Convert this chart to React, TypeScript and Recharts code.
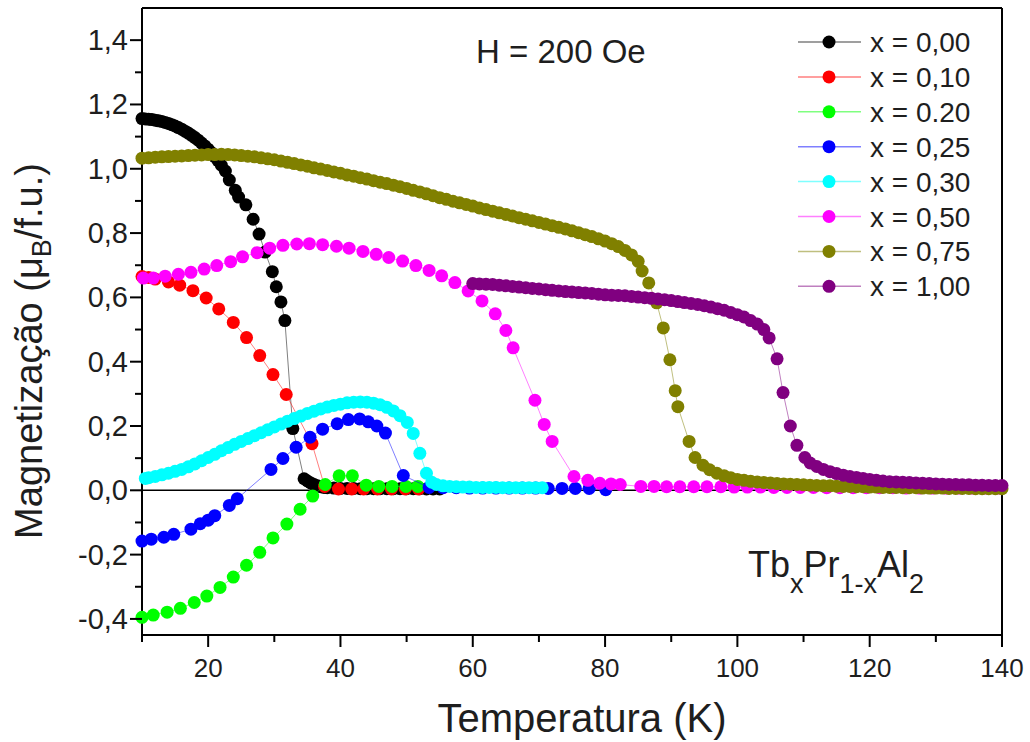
import { ScatterChart, Scatter, XAxis, YAxis, ReferenceLine } from 'recharts';

const FONT = '"Liberation Sans", Arial, Helvetica, sans-serif';
const TEXT = '#1e1e1e';
const DOT_R = 6.5;

type Pt = [number, number];

// magnetization (mu_B/f.u.) vs temperature (K)
const x000: Pt[] = [
  [10, 1.156], [10.5, 1.155], [11, 1.154], [11.5, 1.153], [12, 1.151], [12.5, 1.149], [13, 1.147],
  [13.5, 1.144], [14, 1.141], [14.5, 1.137], [15, 1.133], [15.5, 1.128], [16, 1.123], [16.5, 1.117],
  [17, 1.111], [17.5, 1.104], [18, 1.097], [18.5, 1.089], [19, 1.08], [19.5, 1.071], [20, 1.061],
  [20.5, 1.05], [21, 1.038], [21.5, 1.025], [22, 1.011], [22.6, 0.993], [23.2, 0.965], [24.1, 0.933],
  [24.6, 0.912], [25.7, 0.888], [26.8, 0.843], [27.7, 0.797], [28.6, 0.741], [29.7, 0.68], [30.3, 0.633],
  [31.0, 0.586], [31.6, 0.528], [32.8, 0.192], [34.5, 0.036], [35, 0.029], [35.5, 0.023], [36, 0.018],
  [36.5, 0.014], [37, 0.011], [37.5, 0.009], [38, 0.008], [39, 0.007], [40, 0.006], [41, 0.006],
  [42, 0.006], [43, 0.005], [44, 0.005], [45, 0.005], [46, 0.005], [47, 0.005], [48, 0.005], [49, 0.005],
  [50, 0.005], [51, 0.005], [52, 0.005], [53, 0.004], [54, 0.004], [55, 0.004],
];

const x010: Pt[] = [
  [10, 0.665], [11, 0.662], [12, 0.657], [14, 0.648], [15.7, 0.638], [17.7, 0.621], [19.7, 0.598],
  [21.6, 0.564], [23.8, 0.522], [25.8, 0.475], [27.8, 0.419], [29.8, 0.36], [31.8, 0.298], [35.7, 0.145],
  [37.6, 0.012], [39.7, 0.004], [41.7, 0.004], [43.5, 0.004], [45.6, 0.004], [47.7, 0.004], [49.8, 0.004],
  [51.8, 0.004],
];

const x020: Pt[] = [
  [10, -0.395], [11.7, -0.388], [13.8, -0.379], [15.8, -0.367], [17.9, -0.349], [19.8, -0.329],
  [21.8, -0.302], [23.8, -0.27], [25.8, -0.233], [27.8, -0.193], [29.8, -0.148], [31.9, -0.105],
  [33.9, -0.059], [35.8, -0.018], [37.7, 0.018], [39.8, 0.045], [41.8, 0.045], [43.9, 0.016],
  [45.8, 0.012], [47.8, 0.012], [49.9, 0.012], [51.7, 0.012],
];

const x025: Pt[] = [
  [10, -0.158], [11.4, -0.152], [13.3, -0.146], [14.8, -0.137], [17.4, -0.121], [18.8, -0.104],
  [20, -0.093], [21, -0.079], [23.2, -0.047], [24.4, -0.026], [29.5, 0.065], [31.3, 0.099], [33.3, 0.134],
  [35.4, 0.165], [37.3, 0.19], [39.5, 0.207], [41.2, 0.22], [42.9, 0.222], [44.2, 0.213], [45.5, 0.2],
  [46.8, 0.178], [49.5, 0.046], [53.4, 0.009], [55.5, 0.008], [57.5, 0.008], [59.5, 0.007], [61.5, 0.007],
  [63.5, 0.007], [65.5, 0.007], [67.5, 0.007], [69.5, 0.007], [71.4, 0.006], [73.5, 0.006], [75.5, 0.006],
  [77.6, 0.006], [80.1, 0.002],
];

const x030: Pt[] = [
  [10.5, 0.037], [11, 0.039], [12, 0.043], [13, 0.048], [14, 0.053], [15, 0.059], [16, 0.065], [17, 0.073],
  [18, 0.082], [19, 0.092], [20, 0.102], [21, 0.112], [22, 0.123], [23, 0.133], [24, 0.143], [25, 0.152],
  [26, 0.161], [27, 0.17], [28, 0.179], [29, 0.188], [30, 0.197], [31, 0.206], [32, 0.215], [33, 0.223],
  [34, 0.231], [35, 0.239], [36, 0.246], [37, 0.253], [38, 0.259], [39, 0.264], [40, 0.268], [41, 0.272],
  [42, 0.274], [43, 0.275], [44, 0.274], [45, 0.271], [46, 0.266], [47, 0.258], [48, 0.247], [49, 0.232],
  [50.1, 0.211], [51, 0.177], [52, 0.115], [53, 0.053], [53.8, 0.025], [54.5, 0.018], [55.5, 0.014],
  [56.5, 0.012], [57.5, 0.011], [58.5, 0.01], [59.5, 0.01], [60.5, 0.009], [61.5, 0.009], [62.5, 0.009],
  [63.5, 0.009], [64.5, 0.008], [65.5, 0.008], [66.5, 0.008], [67.5, 0.008], [68.5, 0.008], [69.5, 0.008],
  [70.5, 0.008],
];

const x050: Pt[] = [
  [10.2, 0.66], [11.7, 0.66], [13.5, 0.666], [15.5, 0.672], [17.4, 0.678], [19.4, 0.688], [21.3, 0.699],
  [23.4, 0.711], [25.2, 0.726], [27.4, 0.739], [29.3, 0.753], [31.3, 0.762], [33.4, 0.766], [35.3, 0.767],
  [37.3, 0.764], [39.4, 0.759], [41.3, 0.753], [43.4, 0.743], [45.4, 0.734], [47.3, 0.724], [49.4, 0.713],
  [51.4, 0.699], [53.4, 0.684], [55.3, 0.667], [57.3, 0.646], [59.3, 0.62], [61.4, 0.589], [63.4, 0.549],
  [65.0, 0.497], [66.1, 0.443], [69.4, 0.28], [70.8, 0.205], [72.0, 0.152], [75.3, 0.043], [77.4, 0.031],
  [79.2, 0.022], [80.9, 0.02], [82.3, 0.018], [85.4, 0.012], [87.4, 0.012], [89.3, 0.011], [91.3, 0.011],
  [93.4, 0.011], [95.4, 0.011], [97.5, 0.011], [99.5, 0.01], [101.5, 0.01], [103.5, 0.01], [105.5, 0.009],
  [107.5, 0.009], [109.5, 0.009], [111.5, 0.009], [113.5, 0.008], [115.5, 0.008], [117.5, 0.008],
  [119.5, 0.008], [121.5, 0.008], [123.5, 0.008], [125.5, 0.007], [127.5, 0.007], [129.5, 0.007],
  [131.5, 0.007], [133.5, 0.007], [135.5, 0.007], [137.5, 0.007], [139.5, 0.007],
];

const x075: Pt[] = [
  [10, 1.033], [11, 1.034], [12, 1.036], [13, 1.037], [14, 1.038], [15, 1.039], [16, 1.04], [17, 1.041],
  [18, 1.042], [19, 1.043], [20, 1.044], [21, 1.044], [22, 1.045], [23, 1.044], [24, 1.043], [25, 1.041],
  [26, 1.039], [27, 1.037], [28, 1.034], [29, 1.031], [30, 1.028], [31, 1.024], [32, 1.02], [33, 1.016],
  [34, 1.012], [35, 1.008], [36, 1.003], [37, 0.999], [38, 0.995], [39, 0.99], [40, 0.986], [41, 0.981],
  [42, 0.977], [43, 0.972], [44, 0.968], [45, 0.963], [46, 0.958], [47, 0.954], [48, 0.949], [49, 0.944],
  [50, 0.939], [51, 0.933], [52, 0.928], [53, 0.922], [54, 0.916], [55, 0.91], [56, 0.905], [57, 0.899],
  [58, 0.894], [59, 0.889], [60, 0.884], [61, 0.878], [62, 0.873], [63, 0.868], [64, 0.863], [65, 0.858],
  [66, 0.853], [67, 0.848], [68, 0.843], [69, 0.838], [70, 0.833], [71, 0.828], [72, 0.823], [73, 0.818],
  [74, 0.813], [75, 0.807], [76, 0.801], [77, 0.795], [78, 0.789], [79, 0.782], [80, 0.775], [81, 0.767],
  [82, 0.758], [83, 0.746], [84, 0.732], [85, 0.712], [85.6, 0.682], [86.6, 0.645], [87.8, 0.583],
  [88.8, 0.505], [89.8, 0.406], [90.6, 0.31], [91.0, 0.26], [92.7, 0.152], [93.6, 0.102], [94.8, 0.078],
  [95.8, 0.064], [96.9, 0.053], [98, 0.045], [99, 0.039], [100, 0.034], [101, 0.031], [102, 0.028],
  [103, 0.026], [104, 0.024], [105, 0.023], [106, 0.021], [107, 0.02], [108, 0.019], [109, 0.018],
  [110, 0.017], [111, 0.016], [112, 0.015], [113, 0.014], [114, 0.014], [115, 0.013], [116, 0.012],
  [117, 0.012], [118, 0.011], [119, 0.011], [120, 0.01], [121, 0.01], [122, 0.009], [123, 0.009],
  [124, 0.009], [125, 0.008], [126, 0.008], [127, 0.008], [128, 0.007], [129, 0.007], [130, 0.007],
  [131, 0.007], [132, 0.006], [133, 0.006], [134, 0.006], [135, 0.006], [136, 0.005], [137, 0.005],
  [138, 0.005], [139, 0.005], [140, 0.005],
];

const x100: Pt[] = [
  [60, 0.643], [61, 0.642], [62, 0.641], [63, 0.64], [64, 0.638], [65, 0.636], [66, 0.634], [67, 0.632],
  [68, 0.63], [69, 0.628], [70, 0.626], [71, 0.624], [72, 0.622], [73, 0.62], [74, 0.618], [75, 0.617],
  [76, 0.615], [77, 0.614], [78, 0.612], [79, 0.61], [80, 0.608], [81, 0.607], [82, 0.606], [83, 0.605],
  [84, 0.603], [85, 0.601], [86, 0.599], [87, 0.597], [88, 0.595], [89, 0.593], [90, 0.59], [91, 0.587],
  [92, 0.584], [93, 0.581], [94, 0.578], [95, 0.574], [96, 0.57], [97, 0.565], [98, 0.56], [99, 0.553],
  [100, 0.546], [101, 0.539], [102, 0.528], [103, 0.517], [104, 0.5], [104.8, 0.474], [106, 0.409],
  [106.9, 0.304], [108, 0.2], [109, 0.14], [110.2, 0.102], [111, 0.085], [112, 0.074], [113, 0.065],
  [114, 0.058], [115, 0.052], [116, 0.047], [117, 0.043], [118, 0.04], [119, 0.037], [120, 0.034],
  [121, 0.031], [122, 0.029], [123, 0.027], [124, 0.026], [125, 0.025], [126, 0.024], [127, 0.023],
  [128, 0.022], [129, 0.021], [130, 0.02], [131, 0.019], [132, 0.018], [133, 0.018], [134, 0.017],
  [135, 0.017], [136, 0.016], [137, 0.016], [138, 0.015], [139, 0.015], [140, 0.015],
];

const SERIES = [
  { name: 'x = 0,00', color: '#000000', data: x000 },
  { name: 'x = 0,10', color: '#ff0000', data: x010 },
  { name: 'x = 0.20', color: '#00ff00', data: x020 },
  { name: 'x = 0,25', color: '#0000ff', data: x025 },
  { name: 'x = 0,30', color: '#00ffff', data: x030 },
  { name: 'x = 0,50', color: '#ff00ff', data: x050 },
  { name: 'x = 0,75', color: '#808000', data: x075 },
  { name: 'x = 1,00', color: '#800080', data: x100 },
];

const X_TICKS = [10, 20, 30, 40, 50, 60, 70, 80, 90, 100, 110, 120, 130, 140];
const Y_TICKS = [-0.4, -0.3, -0.2, -0.1, 0, 0.1, 0.2, 0.3, 0.4, 0.5, 0.6, 0.7, 0.8, 0.9, 1.0, 1.1, 1.2, 1.3, 1.4];

function XTick({ x, y, payload }: any) {
  const major = payload.value % 20 === 0;
  return (
    <g>
      <line x1={x} x2={x} y1={y} y2={y + (major ? 12 : 7)} stroke="#000" strokeWidth={2} />
      {major && (
        <text x={x} y={y + 42} textAnchor="middle" fontSize={26} fontFamily={FONT} fill={TEXT}>
          {payload.value}
        </text>
      )}
    </g>
  );
}

function YTick({ x, y, payload }: any) {
  const major = Math.round(payload.value * 10) % 2 === 0;
  return (
    <g>
      <line x1={x - (major ? 12 : 7)} x2={x} y1={y} y2={y} stroke="#000" strokeWidth={2} />
      {major && (
        <text x={x - 14} y={y + 10} textAnchor="end" fontSize={29} fontFamily={FONT} fill={TEXT}>
          {payload.value.toFixed(1).replace('.', ',')}
        </text>
      )}
    </g>
  );
}

function Overlay() {
  return (
    <svg
      width={1030}
      height={742}
      style={{ position: 'absolute', left: 0, top: 0, pointerEvents: 'none' }}
      fontFamily={FONT}
    >
      {/* axis titles */}
      <text transform="translate(42,351) rotate(-90)" textAnchor="middle" fontSize={38} fill={TEXT}>
        Magnetização (μ<tspan fontSize={27} dy={9}>B</tspan>
        <tspan dy={-9}>/f.u.)</tspan>
      </text>
      <text x={582} y={732} textAnchor="middle" fontSize={40} fill={TEXT}>
        Temperatura (K)
      </text>

      {/* annotations */}
      <text x={476} y={63} fontSize={33} fill={TEXT}>
        H = 200 Oe
      </text>
      <text x={748} y={577} fontSize={36} fill={TEXT}>
        Tb<tspan fontSize={27} dy={16}>x</tspan>
        <tspan dy={-16}>Pr</tspan>
        <tspan fontSize={27} dy={16}>1-x</tspan>
        <tspan dy={-16}>Al</tspan>
        <tspan fontSize={27} dy={16}>2</tspan>
      </text>

      {/* legend */}
      {SERIES.map((s, i) => {
        const cy = 42 + i * 34.9;
        return (
          <g key={s.name}>
            <line x1={798} x2={861} y1={cy} y2={cy} stroke={s.color} strokeOpacity={0.5} strokeWidth={1.5} />
            <circle cx={829} cy={cy} r={DOT_R} fill={s.color} />
            <text x={870} y={cy + 10} fontSize={28} fill={TEXT}>
              {s.name}
            </text>
          </g>
        );
      })}
    </svg>
  );
}

export default function App() {
  return (
    <div style={{ position: 'absolute', left: 0, top: 0, width: 1030, height: 742, background: '#fff' }}>
      <ScatterChart width={1030} height={742} margin={{ top: 8, right: 28, bottom: 0, left: 0 }}>
        <XAxis
          type="number"
          dataKey="t"
          domain={[10, 140]}
          ticks={X_TICKS}
          interval={0}
          height={107}
          tickSize={0}
          tickMargin={0}
          tickLine={false}
          axisLine={{ stroke: '#000', strokeWidth: 2 }}
          tick={<XTick />}
        />
        <YAxis
          type="number"
          dataKey="m"
          domain={[-0.45, 1.5]}
          ticks={Y_TICKS}
          interval={0}
          width={142}
          tickSize={0}
          tickMargin={0}
          tickLine={false}
          axisLine={{ stroke: '#000', strokeWidth: 2 }}
          tick={<YTick />}
          allowDataOverflow
        />
        <ReferenceLine y={0} stroke="#000" strokeWidth={1.5} />
        <ReferenceLine y={1.5} stroke="#000" strokeWidth={2} />
        <ReferenceLine x={140} stroke="#000" strokeWidth={2} />
        {SERIES.map((s) => (
          <Scatter
            key={s.name}
            name={s.name}
            data={s.data.map(([t, m]) => ({ t, m }))}
            fill={s.color}
            line={{ stroke: s.color, strokeWidth: 1, strokeOpacity: 0.5 }}
            shape={(p: any) => <circle cx={p.cx} cy={p.cy} r={DOT_R} fill={s.color} />}
            isAnimationActive={false}
          />
        ))}
      </ScatterChart>
      <Overlay />
    </div>
  );
}
